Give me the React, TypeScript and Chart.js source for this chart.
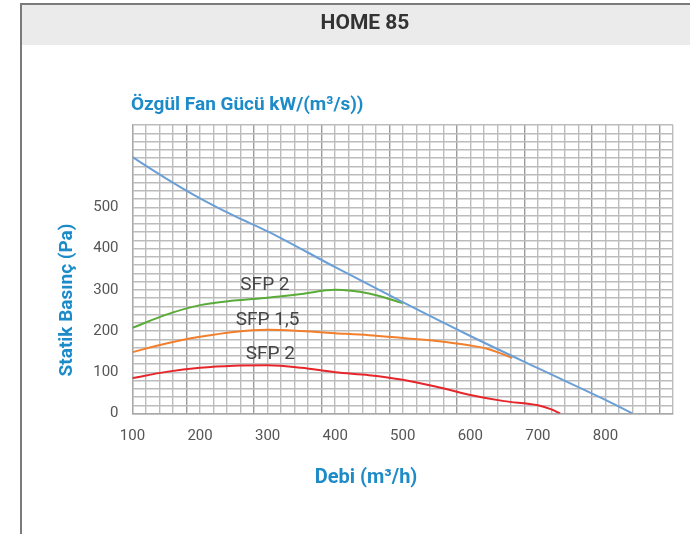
import React, { useEffect, useRef } from "react";
import { Chart, registerables } from "chart.js";

Chart.register(...registerables);

// ---- data ----
const chartTitle = "HOME 85";
const topTitle = "Özgül Fan Gücü kW/(m³/s))";
const xTitle = "Debi (m³/h)";
const yTitle = "Statik Basınç (Pa)";

const blueX = [100, 150, 200, 250, 300, 400, 500, 600, 700, 800, 840];
const blueY = [622, 570, 522, 480, 442, 355, 270, 188, 110, 33, 0];

const greenX = [100, 150, 200, 250, 300, 350, 400, 450, 500];
const greenY = [208, 240, 263, 274, 281, 290, 300, 291, 268];

const orangeX = [100, 150, 200, 250, 300, 350, 400, 450, 500, 550, 600, 625, 662];
const orangeY = [149, 170, 186, 198, 203, 200, 195, 190, 183, 176, 165, 157, 135];

const redX = [100, 150, 200, 250, 300, 350, 400, 450, 500, 550, 600, 650, 700, 720, 733];
const redY = [86, 101, 111, 116, 117, 111, 100, 93, 82, 65, 45, 30, 20, 10, 0];

const labelTexts = ["SFP 2", "SFP 1,5", "SFP 2"];
const labelX = [296, 300, 304];
const labelY = [312, 227, 144];

const xTickLabels = [100, 200, 300, 400, 500, 600, 700, 800];
const yTickLabels = [0, 100, 200, 300, 400, 500];

const toPts = (xs: number[], ys: number[]) => xs.map((x, i) => ({ x, y: ys[i] }));

const FONT = "Roboto, 'DejaVu Sans', sans-serif";
const BLUE_TEXT = "#1e8bc9";

const overlay = {
  id: "overlay",
  beforeDraw(chart: any) {
    const { ctx, width, height } = chart;
    ctx.save();
    ctx.fillStyle = "#ffffff";
    ctx.fillRect(0, 0, width, height);
    ctx.fillStyle = "#ebebeb";
    ctx.fillRect(21, 4, width - 21, 41);
    ctx.strokeStyle = "#7a7a7a";
    ctx.lineWidth = 2;
    ctx.beginPath();
    ctx.moveTo(21, height);
    ctx.lineTo(21, 4);
    ctx.lineTo(width, 4);
    ctx.stroke();
    ctx.restore();
  },
  afterDraw(chart: any) {
    const { ctx } = chart;
    const xs = chart.scales.x;
    const ys = chart.scales.y;
    ctx.save();
    ctx.fillStyle = "#333333";
    ctx.font = `bold 21px ${FONT}`;
    ctx.textAlign = "center";
    ctx.textBaseline = "middle";
    ctx.fillText(chartTitle, 365, 24);
    ctx.fillStyle = BLUE_TEXT;
    ctx.font = `bold 19px ${FONT}`;
    ctx.textAlign = "left";
    ctx.fillText(topTitle, 131, 105);
    ctx.font = `bold 20px ${FONT}`;
    ctx.textAlign = "center";
    ctx.fillText(xTitle, 366, 478);
    ctx.save();
    ctx.translate(67, 300);
    ctx.rotate(-Math.PI / 2);
    ctx.font = `bold 19px ${FONT}`;
    ctx.fillText(yTitle, 0, 0);
    ctx.restore();
    ctx.fillStyle = "#444444";
    ctx.font = `19px ${FONT}`;
    labelTexts.forEach((t, i) => {
      ctx.fillText(t, xs.getPixelForValue(labelX[i]), ys.getPixelForValue(labelY[i]));
    });
    ctx.restore();
  },
};

export default function App() {
  const ref = useRef<HTMLCanvasElement | null>(null);
  useEffect(() => {
    if (!ref.current) return;
    const gridColor = (ctx: any) => {
      const v = ctx.tick ? ctx.tick.value : 0;
      return (v - 80) % 100 === 0 ? "#9c9c9c" : "#bcbcbc";
    };
    const chart = new Chart(ref.current, {
      type: "line",
      data: {
        datasets: [
          { data: toPts(blueX, blueY), borderColor: "#6b9fd6", borderWidth: 2, pointRadius: 0, cubicInterpolationMode: "monotone" },
          { data: toPts(greenX, greenY), borderColor: "#5aab3a", borderWidth: 2, pointRadius: 0, cubicInterpolationMode: "monotone" },
          { data: toPts(orangeX, orangeY), borderColor: "#f27f2c", borderWidth: 2, pointRadius: 0, cubicInterpolationMode: "monotone" },
          { data: toPts(redX, redY), borderColor: "#e6262b", borderWidth: 2, pointRadius: 0, cubicInterpolationMode: "monotone" },
        ] as any,
      },
      options: {
        responsive: false,
        animation: false,
        events: [],
        layout: { padding: { left: 21, top: 125, right: 17, bottom: 0 } },
        plugins: { legend: { display: false }, tooltip: { enabled: false }, title: { display: false } },
        scales: {
          x: {
            type: "linear",
            min: 100,
            max: 900,
            afterFit: (s: any) => { s.height = 120.5; },
            grid: { color: gridColor, lineWidth: 1.4, drawTicks: false },
            border: { display: true, color: "#a8a8a8", width: 1.4 },
            ticks: {
              stepSize: 20,
              autoSkip: false,
              maxRotation: 0,
              padding: 14,
              color: "#555555",
              font: { family: FONT, size: 15 },
              callback: (v: any) => (xTickLabels.includes(Number(v)) ? String(v) : ""),
            },
          },
          y: {
            min: 0,
            max: 700,
            afterFit: (s: any) => { s.width = 111.5; },
            grid: { color: "#bcbcbc", lineWidth: 1.4, drawTicks: false },
            border: { display: true, color: "#a8a8a8", width: 1.4 },
            ticks: {
              stepSize: 20,
              autoSkip: false,
              padding: 14,
              color: "#555555",
              font: { family: FONT, size: 15 },
              callback: (v: any) => (yTickLabels.includes(Number(v)) ? String(v) : ""),
            },
          },
        },
      } as any,
      plugins: [overlay],
    });
    return () => chart.destroy();
  }, []);
  return (
    <div style={{ position: "absolute", left: 0, top: 0, width: 690, height: 534, background: "#fff" }}>
      <canvas ref={ref} width={690} height={534} style={{ display: "block" }} />
    </div>
  );
}
